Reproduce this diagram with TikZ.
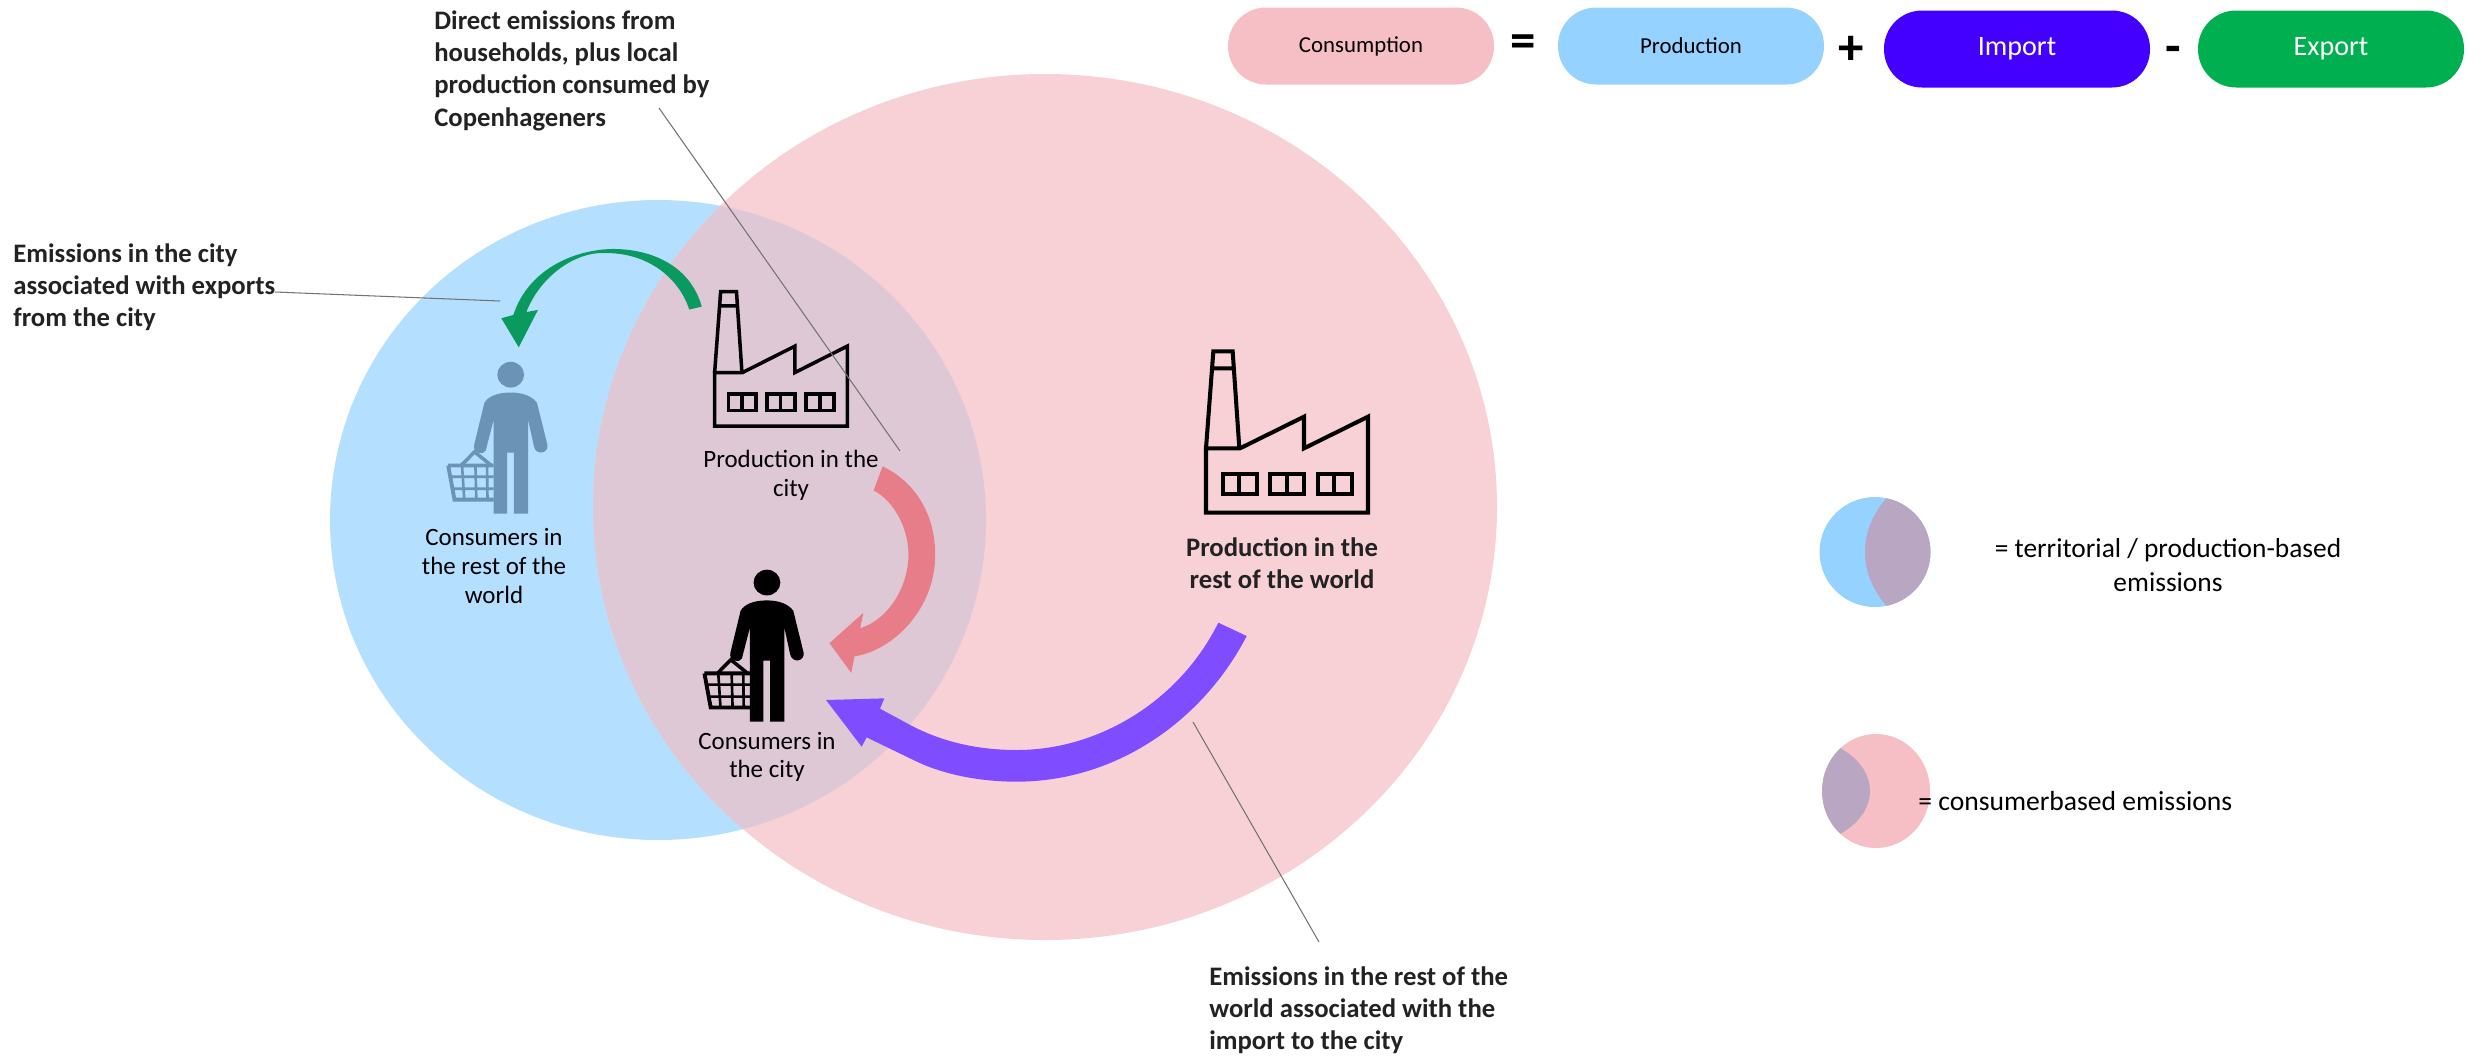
\documentclass[tikz,border=0pt]{standalone}
\usepackage{fontspec}
\setmainfont{Carlito}
\usetikzlibrary{calc}
\definecolor{cblue}{HTML}{B5DFFF}
\definecolor{cpink}{HTML}{F8D1D6}
\definecolor{cover}{HTML}{DFC8D5}
\definecolor{lblue}{HTML}{95D2FF}
\definecolor{lpink}{HTML}{F6BFC5}
\definecolor{lover}{HTML}{B9A6C2}
\definecolor{cimp}{HTML}{4400FF}
\definecolor{cexp}{HTML}{00B050}
\definecolor{arrgreen}{HTML}{0A9A60}
\definecolor{arrpink}{HTML}{E87D8A}
\definecolor{arrpurple}{HTML}{7F4DFF}
\definecolor{persblue}{HTML}{6A93B5}
\definecolor{txt}{HTML}{222222}
\tikzset{
 lab/.style={align=center,font=\fontsize{14.2}{16.4}\selectfont,text=black,inner sep=0pt},
 blab/.style={align=left,font=\fontsize{15.2}{18.4}\selectfont\bfseries,text=txt,inner sep=0pt},
 pill/.style={rounded corners=.76cm,minimum width=5.32cm,minimum height=1.54cm,inner sep=0pt},
 leader/.style={draw=black!55,line width=.6pt},
 op/.style={font=\fontsize{29}{29}\selectfont\bfseries,inner sep=0pt},
}
\newcommand{\factorydraw}{
 \draw[line join=miter] (228,578)--(714,578)--(714,290)--(522,385)--(522,290)--(330,385)--(228,385)--cycle;
 \draw (228,385)--(250,94)--(308,94)--(328,385) (250,145)--(312,145);
 \foreach \a in {278,420,563}{
  \draw (\a,463) rectangle ++(102,58) (\a+50,463)--++(0,58);}
}
\newcommand{\persondraw}[1]{
 \fill[#1] (1046,922) circle[x radius=30,y radius=31];
 \fill[#1] (1046,965) .. controls (1075,965) and (1095,975) .. (1105,990) -- (1128,1090) .. controls (1132,1112) and (1103,1118) .. (1098,1095) -- (1085,1030) -- (1085,1257) -- (1053,1257) -- (1053,1110) -- (1038,1110) -- (1038,1257) -- (1008,1257) -- (1008,1030) -- (990,1105) .. controls (985,1118) and (960,1110) .. (964,1092) -- (987,990) .. controls (995,975) and (1015,965) .. (1046,965) -- cycle;
 \draw[#1,line width=2.2pt] (906,1141)--(1008,1141) (1008,1223)--(920,1223)--(906,1141);
 \draw[#1,line width=1.5pt] (912,1168)--(1008,1168) (916,1197)--(1008,1197) (937,1141)--(942,1223) (967,1141)--(969,1223) (993,1141)--(994,1223);
 \draw[#1,line width=2pt] (935,1141)--(965,1108)--(1003,1141);
}
\begin{document}
\begin{tikzpicture}[x=.02cm,y=-.02cm]
\useasboundingbox (0,0) rectangle (2481,1056);
% big circles
\fill[cblue] (658,520) ellipse[x radius=328,y radius=320];
\fill[cpink] (1045,507) ellipse[x radius=452,y radius=433];
\begin{scope}
 \clip (658,520) ellipse[x radius=328,y radius=320];
 \fill[cover] (1045,507) ellipse[x radius=452,y radius=433];
\end{scope}
% zoom-space scope
\begin{scope}[shift={(300,200)},xscale=.4464,yscale=.4149]
 % green
 \fill[arrgreen] (900,257) .. controls (875,160) and (790,118) .. (700,118) .. controls (610,120) and (510,170) .. (478,277) -- (451,285) -- (490,355) -- (533,265) -- (507,270) .. controls (540,180) and (620,125) .. (680,128) .. controls (780,125) and (850,190) .. (872,264) -- cycle;
 % pink
 \fill[arrpink] (1305,642) .. controls (1380,680) and (1423,760) .. (1423,855) .. controls (1423,985) and (1330,1085) .. (1242,1100) -- (1235,1140) -- (1186,1068) -- (1262,995) -- (1255,1032) .. controls (1320,1010) and (1363,930) .. (1363,855) .. controls (1363,790) and (1330,725) .. (1285,700) -- cycle;
 \persondraw{black}
 \begin{scope}[shift={(-574,-501)}]\persondraw{persblue}\end{scope}
\end{scope}
% purple
\begin{scope}[shift={(800,600)},scale=1/3]
\fill[arrpurple] (1255,68) .. controls (1140,300) and (900,450) .. (650,450) .. controls (500,450) and (400,410) .. (340,380) -- (240,326) -- (253,295) -- (78,300) -- (185,440) -- (200,412) -- (340,480) .. controls (420,520) and (530,545) .. (650,545) .. controls (950,545) and (1210,360) .. (1340,108) -- cycle;
\end{scope}
% factories
\begin{scope}[shift={(1130,320)},scale=1/3,line width=2.3pt]\factorydraw\end{scope}
\begin{scope}[shift={(652.4,265.5)},xscale=.273,yscale=.278,line width=2pt]\factorydraw\end{scope}
% leaders
\coordinate (l1a) at (659,108); \coordinate (l1b) at (900,451);
\coordinate (l2a) at (275,292); \coordinate (l2b) at (500,301);
\coordinate (l3a) at (1193,722); \coordinate (l3b) at (1319,942);
\draw[leader] (l1a)--(l1b); \draw[leader] (l2a)--(l2b); \draw[leader] (l3a)--(l3b);
% labels in circles
\node[lab] (t1) at (791,475) {Production in the\\city};
\node[lab] (t2) at (494,566) {Consumers in\\the rest of the\\world};
\node[lab] (t3) at (767,757) {Consumers in\\the city};
\node[blab,align=center] (t4) at (1282,563) {Production in the\\rest of the world};
\node[blab,anchor=north west] (t5) at (434,10) {Direct emissions from\\households, plus local\\production consumed by\\Copenhageners};
\node[blab,anchor=north west] (t6) at (13,243) {Emissions in the city\\associated with exports\\from the city};
\node[blab,anchor=north west] (t7) at (1209,966) {Emissions in the rest of the\\world associated with the\\import to the city};
% equation
\node[pill,fill=lpink,font=\fontsize{13}{15}\selectfont] (c) at (1361,46) {Consumption};
\node[op] (eq) at (1523,46) {=};
\node[pill,fill=lblue,font=\fontsize{13}{15}\selectfont] (p) at (1691,46) {Production};
\node[op] (pl) at (1851,50) {+};
\node[pill,fill=cimp,text=white,font=\fontsize{16}{18}\selectfont] (i) at (2017,49) {Import};
\node[op] (mi) at (2173,55) {-};
\node[pill,fill=cexp,text=white,font=\fontsize{16}{18}\selectfont] (e) at (2331,49) {Export};
% legend
\begin{scope}
 \fill[lblue] (1875,552) ellipse[x radius=55.5,y radius=55];
 \clip (1875,552) ellipse[x radius=55.5,y radius=55];
 \fill[lover] (1987,552) ellipse[x radius=122,y radius=95];
\end{scope}
\begin{scope}
 \fill[lpink] (1876,791) ellipse[x radius=54,y radius=57];
 \clip (1876,791) ellipse[x radius=54,y radius=57];
 \fill[lover] (1790,791) ellipse[x radius=80,y radius=55];
\end{scope}
\node[lab,font=\fontsize{15.6}{19.3}\selectfont] (t8) at (2168,565) {= territorial / production-based\\emissions};
\node[lab,font=\fontsize{15.7}{19}\selectfont,anchor=west] (t9) at (1918,801) {= consumerbased emissions};
\end{tikzpicture}
\end{document}
